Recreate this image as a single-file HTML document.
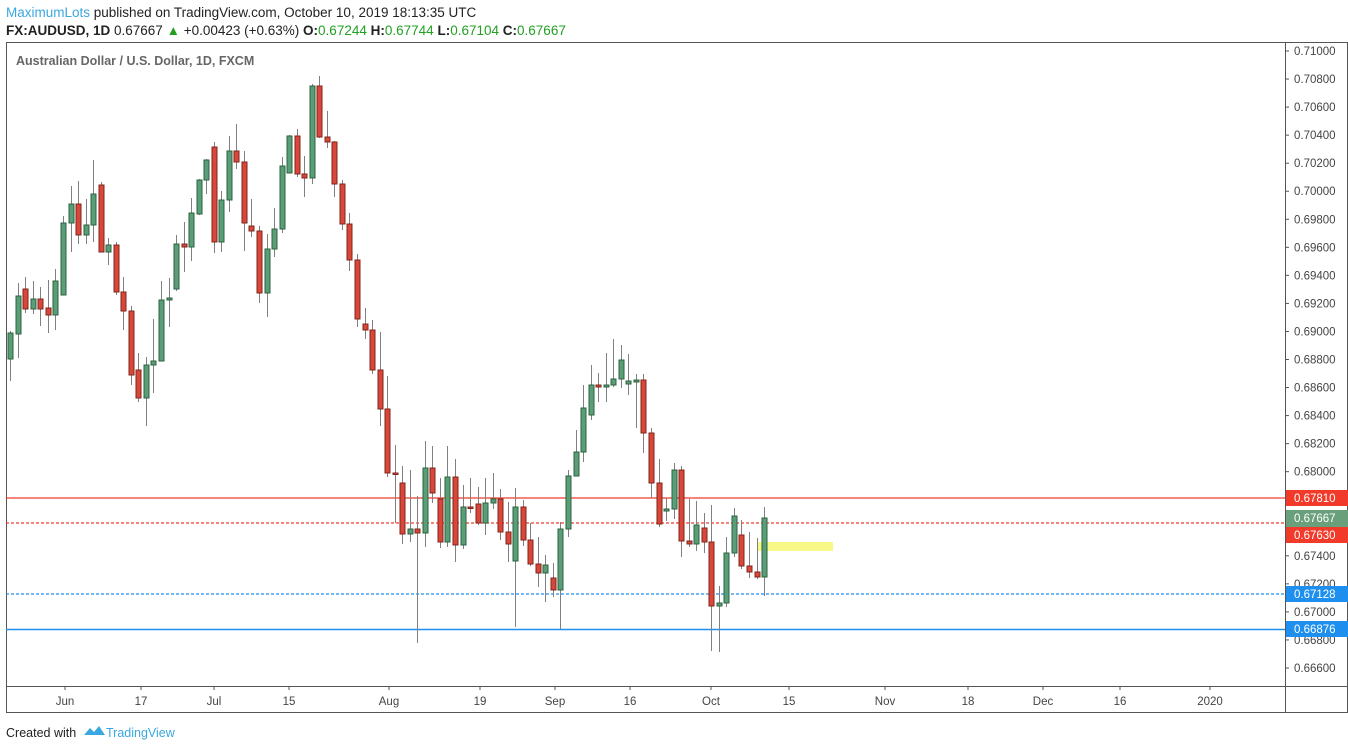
<!DOCTYPE html>
<html><head><meta charset="utf-8"><style>
body{margin:0;width:1348px;height:750px;background:#fff;overflow:hidden;font-family:"Liberation Sans",sans-serif}
svg{position:absolute;left:0;top:0}
</style></head><body>
<svg width="1348" height="750" xmlns="http://www.w3.org/2000/svg" font-family="Liberation Sans, sans-serif">
<text x="6" y="17" font-size="13.5"><tspan fill="#3aa8e0">MaximumLots</tspan><tspan fill="#222"> published on TradingView.com, October 10, 2019 18:13:35 UTC</tspan></text>
<text x="6" y="35" font-size="13.5" fill="#222"><tspan font-weight="bold">FX:AUDUSD, 1D</tspan> 0.67667 <tspan fill="#22a022">▲</tspan> +0.00423 (+0.63%) <tspan font-weight="bold">O:</tspan><tspan fill="#22a022">0.67244</tspan> <tspan font-weight="bold">H:</tspan><tspan fill="#22a022">0.67744</tspan> <tspan font-weight="bold">L:</tspan><tspan fill="#22a022">0.67104</tspan> <tspan font-weight="bold">C:</tspan><tspan fill="#22a022">0.67667</tspan></text>
<rect x="6.5" y="42.5" width="1341" height="670" fill="none" stroke="#555"/>
<line x1="1285.5" y1="42" x2="1285.5" y2="713" stroke="#555"/>
<line x1="6" y1="686.5" x2="1348" y2="686.5" stroke="#555"/>
<text x="16" y="65" font-size="12.5" font-weight="bold" fill="#666">Australian Dollar / U.S. Dollar, 1D, FXCM</text>
<g id="yaxis" font-size="11.5" fill="#444"></g>
<g id="xaxis" font-size="11.5" fill="#444" text-anchor="middle"></g>
<line x1="6" y1="498" x2="1285" y2="498" stroke="#f23a2a" stroke-width="1.3"/>
<line x1="6" y1="523" x2="1285" y2="523" stroke="#f23a2a" stroke-width="1.3" stroke-dasharray="3,2"/>
<line x1="6" y1="594" x2="1285" y2="594" stroke="#1e8fef" stroke-width="1.3" stroke-dasharray="3,2"/>
<line x1="6" y1="629.5" x2="1285" y2="629.5" stroke="#1e8fef" stroke-width="1.5"/>
<rect x="757" y="542" width="76" height="9" fill="#f6f77a" opacity="0.9"/>
<g id="candles"></g>
<g font-size="11.5" fill="#fff">
<rect x="1286" y="490" width="62" height="16" fill="#f23a2a"/><text x="1294" y="502">0.67810</text>
<rect x="1286" y="510" width="62" height="17" fill="#6a9f7c"/><text x="1294" y="522">0.67667</text>
<rect x="1286" y="527" width="62" height="16" fill="#f23a2a"/><text x="1294" y="539">0.67630</text>
<rect x="1286" y="586" width="62" height="16" fill="#1e8fef"/><text x="1294" y="598">0.67128</text>
<rect x="1286" y="621" width="62" height="16" fill="#1e8fef"/><text x="1294" y="633">0.66876</text>
</g>
<text x="6" y="737" font-size="12.5" fill="#222">Created with</text>
<path d="M84 735 l6-7 4 4 5-6 6 9z" fill="#3aa8e0"/>
<text x="106" y="737" font-size="12.5" fill="#3aa8e0">TradingView</text>
</svg>
<script>
var NS="http://www.w3.org/2000/svg";
function el(p,t,a,txt){var e=document.createElementNS(NS,t);for(var k in a)e.setAttribute(k,a[k]);if(txt)e.textContent=txt;p.appendChild(e);return e;}
var ya=document.getElementById("yaxis");
var skip={20:1,21:1};
for(var i=0;i<=22;i++){var p=0.71-i*0.002;var y=51+i*28.045;
 el(ya,"line",{x1:1285,x2:1289,y1:y,y2:y,stroke:"#555"});
 el(ya,"text",{x:1294,y:y+4},p.toFixed(5));}
var xa=document.getElementById("xaxis");
[["Jun",65],["17",141],["Jul",214],["15",289],["Aug",389],["19",480],["Sep",555],["16",630],["Oct",711],["15",789],["Nov",885],["18",968],["Dec",1043],["16",1120],["2020",1210]].forEach(function(t){
 el(xa,"line",{x1:t[1],x2:t[1],y1:686,y2:690,stroke:"#555"});
 el(xa,"text",{x:t[1],y:705},t[0]);});
var C=[
[10,331,381,333,359,"g"],[18,283,358,296,334,"g"],[25,277,313,289,309,"r"],[33,281,314,299,309,"g"],[40,287,326,299,309,"r"],[48,280,333,308,315,"r"],[55,269,330,281,315,"g"],[63,216,295,223,295,"g"],[71,186,252,204,223,"g"],[78,181,244,204,235,"r"],[86,199,244,225,235,"g"],[93,160,242,194,225,"g"],[101,182,252,185,252,"r"],[108,238,265,245,252,"g"],[116,242,295,245,292,"r"],[123,277,330,292,311,"r"],[131,306,385,311,375,"r"],[138,353,402,370,398,"r"],[146,357,426,365,398,"g"],[153,319,393,361,365,"g"],[161,281,361,300,361,"g"],[169,278,327,298,300,"g"],[176,235,291,244,289,"g"],[184,222,272,244,247,"r"],[191,198,261,213,247,"g"],[199,179,215,180,214,"g"],[206,159,194,160,180,"g"],[214,142,253,147,242,"r"],[221,191,252,200,242,"g"],[229,136,212,151,200,"g"],[236,124,169,151,162,"r"],[244,151,251,162,223,"r"],[251,199,237,226,231,"r"],[259,226,303,231,293,"r"],[267,234,317,249,293,"g"],[274,208,257,229,249,"g"],[282,157,233,166,229,"g"],[289,135,173,136,173,"g"],[297,129,177,136,174,"r"],[304,156,197,174,178,"r"],[312,84,184,86,178,"g"],[319,76,138,86,137,"r"],[327,111,148,137,142,"r"],[334,141,197,142,184,"r"],[342,180,230,184,224,"r"],[349,213,271,224,260,"r"],[357,254,327,260,319,"r"],[365,308,339,324,330,"r"],[372,320,374,330,370,"r"],[380,332,426,370,409,"r"],[387,376,477,409,473,"r"],[395,445,523,473,474,"r"],[402,466,544,483,534,"r"],[410,470,542,529,534,"g"],[417,496,643,529,533,"r"],[425,441,547,468,533,"g"],[432,446,503,468,493,"r"],[440,478,548,499,542,"r"],[447,446,547,477,542,"g"],[455,459,562,477,545,"r"],[463,485,549,507,545,"g"],[470,478,513,507,508,"r"],[478,487,525,504,523,"r"],[485,478,535,503,523,"g"],[493,473,509,499,503,"g"],[500,489,540,499,532,"r"],[508,502,562,532,544,"r"],[515,488,627,507,561,"g"],[523,500,546,507,540,"r"],[530,523,566,540,564,"r"],[538,537,587,564,573,"r"],[545,555,602,565,573,"g"],[553,563,597,578,590,"r"],[560,522,629,529,590,"g"],[568,470,537,476,529,"g"],[576,430,476,452,476,"g"],[583,385,462,408,452,"g"],[591,365,420,385,415,"g"],[598,373,402,385,387,"r"],[606,353,402,385,387,"g"],[613,339,387,379,385,"g"],[621,345,388,360,379,"g"],[628,354,395,381,384,"g"],[636,374,428,380,382,"g"],[643,374,453,380,433,"r"],[651,428,498,433,483,"r"],[659,459,527,483,524,"r"],[666,498,521,509,511,"g"],[674,463,519,470,509,"g"],[681,466,557,470,541,"r"],[689,499,547,541,544,"r"],[696,501,551,525,544,"g"],[704,513,553,528,542,"r"],[711,505,651,542,606,"r"],[719,586,652,603,606,"g"],[726,537,607,553,603,"g"],[734,508,557,516,553,"g"],[741,520,569,535,566,"r"],[749,532,578,566,572,"r"],[757,538,579,572,577,"r"],[764,507,596,518,577,"g"]];
var g=document.getElementById("candles");
C.forEach(function(c){var x=c[0]+0.5;
 el(g,"line",{x1:x,x2:x,y1:c[1],y2:c[2],stroke:"#808080","stroke-width":1});
 var h=Math.max(c[4]-c[3],1.5);
 el(g,"rect",{x:x-2.5,y:c[3],width:5,height:h,fill:c[5]=="g"?"#5a9e77":"#d9473a",stroke:c[5]=="g"?"#2c6140":"#7f241b","stroke-width":1});});
</script>
</body></html>
